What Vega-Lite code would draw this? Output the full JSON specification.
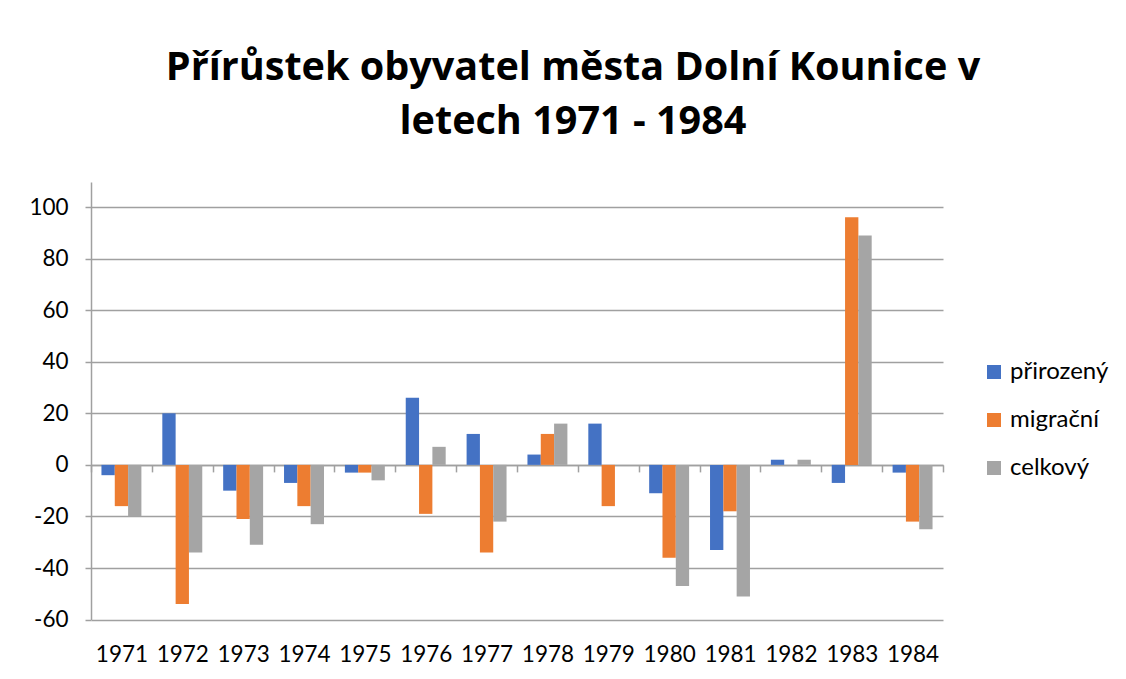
{
  "$schema": "https://vega.github.io/schema/vega-lite/v6.json",
  "width": 852,
  "height": 437.6,
  "autosize": {"type": "none"},
  "padding": {"left": 91, "top": 182, "right": 183, "bottom": 59},
  "background": "white",
  "title": {
    "text": ["Přírůstek obyvatel města Dolní Kounice v", "letech 1971 - 1984"],
    "font": "Open Sans",
    "fontSize": 39.6,
    "fontWeight": "bold",
    "color": "#000000",
    "anchor": "middle",
    "frame": "group",
    "dx": 56,
    "offset": 39,
    "lineHeight": 54
  },
  "config": {"view": {"stroke": null}, "font": "Lato"},
  "data": {
    "values": [
      {"year": "1971", "series": "přirozený", "value": -4},
      {"year": "1971", "series": "migrační", "value": -16},
      {"year": "1971", "series": "celkový", "value": -20},
      {"year": "1972", "series": "přirozený", "value": 20},
      {"year": "1972", "series": "migrační", "value": -54},
      {"year": "1972", "series": "celkový", "value": -34},
      {"year": "1973", "series": "přirozený", "value": -10},
      {"year": "1973", "series": "migrační", "value": -21},
      {"year": "1973", "series": "celkový", "value": -31},
      {"year": "1974", "series": "přirozený", "value": -7},
      {"year": "1974", "series": "migrační", "value": -16},
      {"year": "1974", "series": "celkový", "value": -23},
      {"year": "1975", "series": "přirozený", "value": -3},
      {"year": "1975", "series": "migrační", "value": -3},
      {"year": "1975", "series": "celkový", "value": -6},
      {"year": "1976", "series": "přirozený", "value": 26},
      {"year": "1976", "series": "migrační", "value": -19},
      {"year": "1976", "series": "celkový", "value": 7},
      {"year": "1977", "series": "přirozený", "value": 12},
      {"year": "1977", "series": "migrační", "value": -34},
      {"year": "1977", "series": "celkový", "value": -22},
      {"year": "1978", "series": "přirozený", "value": 4},
      {"year": "1978", "series": "migrační", "value": 12},
      {"year": "1978", "series": "celkový", "value": 16},
      {"year": "1979", "series": "přirozený", "value": 16},
      {"year": "1979", "series": "migrační", "value": -16},
      {"year": "1979", "series": "celkový", "value": 0},
      {"year": "1980", "series": "přirozený", "value": -11},
      {"year": "1980", "series": "migrační", "value": -36},
      {"year": "1980", "series": "celkový", "value": -47},
      {"year": "1981", "series": "přirozený", "value": -33},
      {"year": "1981", "series": "migrační", "value": -18},
      {"year": "1981", "series": "celkový", "value": -51},
      {"year": "1982", "series": "přirozený", "value": 2},
      {"year": "1982", "series": "migrační", "value": 0},
      {"year": "1982", "series": "celkový", "value": 2},
      {"year": "1983", "series": "přirozený", "value": -7},
      {"year": "1983", "series": "migrační", "value": 96},
      {"year": "1983", "series": "celkový", "value": 89},
      {"year": "1984", "series": "přirozený", "value": -3},
      {"year": "1984", "series": "migrační", "value": -22},
      {"year": "1984", "series": "celkový", "value": -25}
    ]
  },
  "mark": {"type": "bar"},
  "encoding": {
    "x": {
      "field": "year",
      "type": "ordinal",
      "scale": {"paddingInner": 0, "paddingOuter": 0},
      "axis": {
        "title": null,
        "labelAngle": 0,
        "offset": -154.7,
        "tickBand": "extent",
        "tickSize": 7,
        "tickColor": "#a0a0a0",
        "tickWidth": 1.5,
        "domainColor": "#a0a0a0",
        "domainWidth": 1.5,
        "labelPadding": 172,
        "labelFontSize": 22.5,
        "labelFont": "Lato",
        "labelColor": "#000000"
      }
    },
    "xOffset": {
      "field": "series",
      "type": "nominal",
      "sort": ["přirozený", "migrační", "celkový"],
      "scale": {"paddingInner": 0, "paddingOuter": 0.785}
    },
    "y": {
      "field": "value",
      "type": "quantitative",
      "scale": {"domain": [-60, 109.7], "nice": false, "zero": false},
      "axis": {
        "title": null,
        "values": [-60, -40, -20, 0, 20, 40, 60, 80, 100],
        "labelExpr": "'' + datum.value",
        "grid": true,
        "gridColor": "#a0a0a0",
        "gridWidth": 1.5,
        "tickSize": 6,
        "tickColor": "#a0a0a0",
        "tickWidth": 1.5,
        "domainColor": "#a0a0a0",
        "domainWidth": 1.5,
        "labelPadding": 17,
        "labelFontSize": 22.5,
        "labelFont": "Lato",
        "labelColor": "#000000"
      }
    },
    "color": {
      "field": "series",
      "type": "nominal",
      "sort": ["přirozený", "migrační", "celkový"],
      "scale": {"domain": ["přirozený", "migrační", "celkový"], "range": ["#4472C4", "#ED7D31", "#A5A5A5"]},
      "legend": {
        "title": null,
        "orient": "none",
        "legendX": 891,
        "legendY": 178,
        "symbolType": "square",
        "symbolSize": 196,
        "symbolStrokeWidth": 0,
        "labelFontSize": 24,
        "labelFont": "Lato",
        "labelColor": "#000000",
        "labelOffset": 4,
        "rowPadding": 24
      }
    }
  }
}
